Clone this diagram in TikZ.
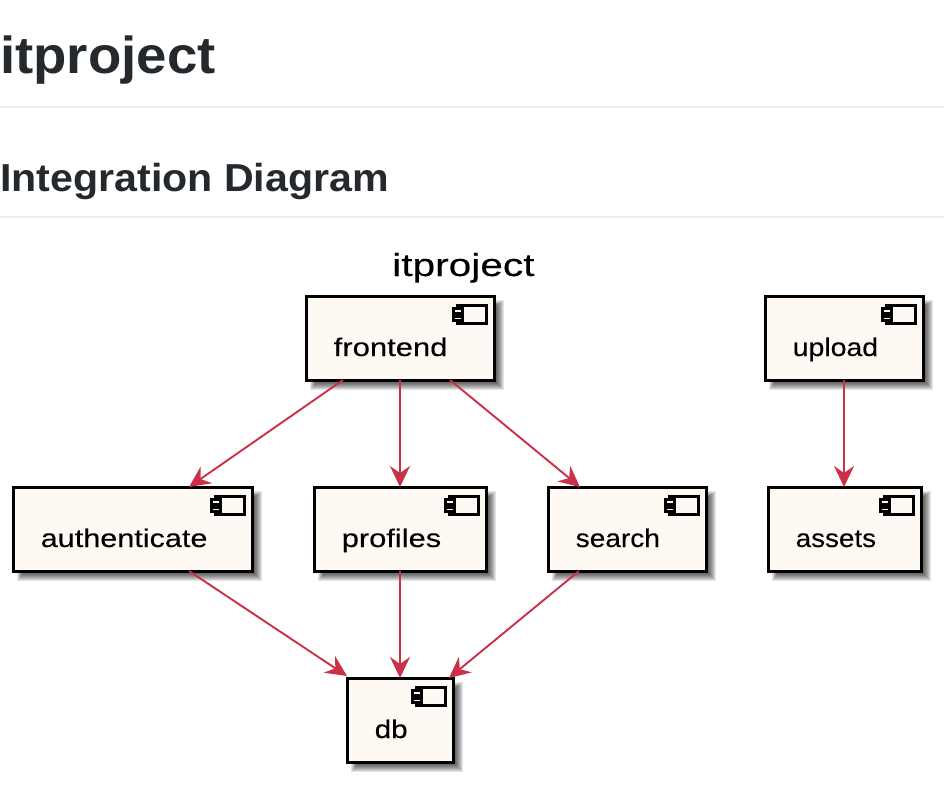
\documentclass[tikz,border=0pt]{standalone}
\usepackage{fontspec}
\setmainfont{Liberation Sans}
\newfontfamily\labelfont[FakeBold=0.25]{Liberation Sans}
\usetikzlibrary{arrows.meta}
\definecolor{headink}{HTML}{24292E}
\definecolor{rulegray}{HTML}{EAECEF}
\definecolor{boxfill}{HTML}{FEFAF3}
\definecolor{arrowred}{HTML}{CC3049}
\tikzset{
  compbox/.style={draw=black,line width=3pt,fill=boxfill,rectangle,inner sep=0pt,outer sep=0pt},
  complabel/.style={anchor=base west,inner sep=0pt,font=\labelfont\fontsize{25.5}{30}\selectfont,transform shape},
  iconpart/.style={draw=black,line width=3pt,fill=boxfill},
  flow/.style={draw=arrowred,line width=1.9pt,-{Stealth[length=21pt,width=20pt,inset=7pt]}},
  headrule/.style={draw=rulegray,line width=1.6pt},
  headtext/.style={anchor=base west,inner sep=0pt,text=headink,xscale=1.05,transform shape},
  shadowlayer/.style={fill=black,opacity=0.1,draw=none}
}
\newcommand{\compnode}[7]{%
  % name, left, top, right, bottom, label, horizontal scale of the label
  \foreach \k in {0,1,2,3,4,5,6,7,8}{
    \fill[shadowlayer] ({#2+10-0.7*\k},{#3+10-0.7*\k}) rectangle ({#4+2+\k},{#5+2+\k});
  }
  \pgfmathsetmacro{\cw}{#4-#2}
  \pgfmathsetmacro{\ch}{#5-#3}
  \node[compbox,minimum width=\cw pt,minimum height=\ch pt] (#1) at ({(#2+#4)/2},{(#3+#5)/2}) {};
  \node[complabel,xscale=#7] (#1label) at ({#2+27.5},{#3+60}) {#6};
  \draw[iconpart] ({#4-37},{#3+9}) rectangle ({#4-8},{#3+27});
  \draw[iconpart] ({#4-41},{#3+12.5}) rectangle ({#4-32},{#3+17});
  \draw[iconpart] ({#4-41},{#3+20}) rectangle ({#4-32},{#3+24.5});
}
\begin{document}
\begin{tikzpicture}[x=1pt,y=-1pt]
\useasboundingbox[fill=white] (0,0) rectangle (944,794);
\node[headtext,font=\fontsize{52}{60}\selectfont\bfseries] (pagetitle) at (0,74) {itproject};
\draw[headrule] (0,107) -- (944,107);
\node[headtext,xscale=1.005,font=\fontsize{39}{46}\selectfont\bfseries] (sectiontitle) at (0,192) {Integration Diagram};
\draw[headrule] (0,217) -- (944,217);
\node[anchor=base west,inner sep=0pt,font=\labelfont\fontsize{32}{38}\selectfont,xscale=1.27,transform shape] (diagramtitle) at (392,276) {itproject};
\compnode{frontend}{306}{296}{494}{380}{frontend}{1.215}
\compnode{upload}{765}{296}{923}{380}{upload}{1.115}
\compnode{authenticate}{13}{487}{252}{571}{authenticate}{1.2}
\compnode{profiles}{314}{487}{486}{571}{profiles}{1.21}
\compnode{search}{548}{487}{706}{571}{search}{1.1}
\compnode{assets}{768}{487}{921}{571}{assets}{1.09}
\compnode{db}{347}{678}{453}{762}{db}{1.16}
\draw[flow] ([xshift=37pt]frontend.south west) -- ([xshift=176pt]authenticate.north west);
\draw[flow] ([xshift=94pt]frontend.south west) -- ([xshift=86pt]profiles.north west);
\draw[flow] ([xshift=144pt]frontend.south west) -- ([xshift=32pt]search.north west);
\draw[flow] ([xshift=79pt]upload.south west) -- ([xshift=76pt]assets.north west);
\draw[flow] ([xshift=176pt]authenticate.south west) -- ([xshift=0pt,yshift=2pt]db.north west);
\draw[flow] ([xshift=86pt]profiles.south west) -- ([xshift=53pt]db.north west);
\draw[flow] ([xshift=31pt]search.south west) -- ([xshift=102pt]db.north west);
\end{tikzpicture}
\end{document}
